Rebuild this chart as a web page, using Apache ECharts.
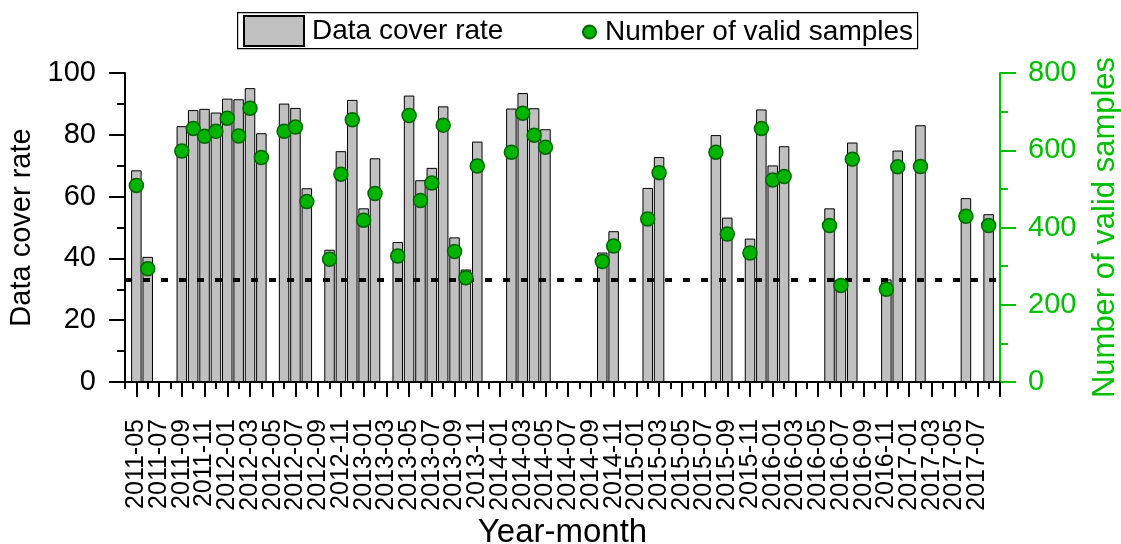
<!DOCTYPE html>
<html>
<head>
<meta charset="utf-8">
<script src="https://cdn.jsdelivr.net/npm/echarts@6/dist/echarts.min.js"></script>
<style>html,body{margin:0;padding:0;background:#fff;overflow:hidden}#c{width:1121px;height:544px}</style>
</head>
<body>
<div id="c"></div>
<script>
var months = ['2011-04','2011-05','2011-06','2011-07','2011-08','2011-09','2011-10','2011-11','2011-12',
'2012-01','2012-02','2012-03','2012-04','2012-05','2012-06','2012-07','2012-08','2012-09','2012-10','2012-11','2012-12',
'2013-01','2013-02','2013-03','2013-04','2013-05','2013-06','2013-07','2013-08','2013-09','2013-10','2013-11','2013-12',
'2014-01','2014-02','2014-03','2014-04','2014-05','2014-06','2014-07','2014-08','2014-09','2014-10','2014-11','2014-12',
'2015-01','2015-02','2015-03','2015-04','2015-05','2015-06','2015-07','2015-08','2015-09','2015-10','2015-11','2015-12',
'2016-01','2016-02','2016-03','2016-04','2016-05','2016-06','2016-07','2016-08','2016-09','2016-10','2016-11','2016-12',
'2017-01','2017-02','2017-03','2017-04','2017-05','2017-06','2017-07','2017-08','2017-09'];

var coverRate = [null,68.5,40.5,null,null,82.8,88.0,88.4,87.2,
91.7,91.5,95.1,80.5,null,90.1,88.7,62.7,null,42.8,74.7,91.3,
56.2,72.4,null,45.3,92.7,65.3,69.3,89.2,46.8,36.4,77.8,null,
null,88.5,93.5,88.6,81.8,null,null,null,null,41.9,48.8,null,
null,62.8,72.8,null,null,null,null,79.9,53.2,null,46.4,88.2,
70.1,76.3,null,null,null,56.2,33.0,77.5,null,null,33.2,74.9,
null,83.1,null,null,null,59.5,null,54.3,null];

var validSamples = [null,509,293,null,null,598,656,636,649,
683,637,709,581,null,649,660,467,null,318,538,679,
419,488,null,326,690,470,515,665,338,270,559,null,
null,595,696,639,608,null,null,null,null,312,352,null,
null,422,542,null,null,null,null,595,383,null,334,656,
523,532,null,null,null,405,250,577,null,null,240,557,
null,558,null,null,null,429,null,405,null];

var threshold = 33;

var FONT = "'Liberation Sans', Arial, sans-serif";
var GREEN = '#00c000';
var LAST = months.length - 1;

var chart = echarts.init(document.getElementById('c'), null, {renderer: 'canvas'});
chart.setOption({
  animation: false,
  backgroundColor: '#fff',
  textStyle: {fontFamily: FONT},
  grid: {left: 125, right: 121, top: 73, bottom: 162, containLabel: false, outerBoundsMode: 'none'},
  graphic: [{
    type: 'rect', left: 237, top: 12, z: -1,
    shape: {width: 680, height: 36},
    style: {fill: '#fff', stroke: '#000', lineWidth: 1.2}
  }],
  legend: [{
    data: [{name: 'Data cover rate', icon: 'rect'}],
    left: 243, top: 15, itemWidth: 60, itemHeight: 30, padding: 0,
    textStyle: {fontSize: 28, color: '#000', fontFamily: FONT, padding: [0,0,0,3]}
  }, {
    data: [{name: 'Number of valid samples', icon: 'circle'}],
    left: 582, top: 18, itemWidth: 13, itemHeight: 13, padding: 0,
    textStyle: {fontSize: 28, color: '#000', fontFamily: FONT, padding: [0,0,0,4]}
  }],
  xAxis: [{
    type: 'category', data: months, boundaryGap: false, position: 'bottom',
    name: 'Year-month', nameLocation: 'middle', nameGap: 134, nameMoveOverlap: false,
    nameTextStyle: {fontSize: 33, color: '#000', fontFamily: FONT},
    axisLine: {lineStyle: {color: '#000', width: 2}},
    axisTick: {show: true, length: 15, lineStyle: {color: '#000', width: 2},
      interval: function (i) { return i % 2 === 1; }},
    axisLabel: {rotate: 90, margin: 37, fontSize: 25, lineHeight: 18, color: '#000', fontFamily: FONT,
      interval: function (i) { return i === 0 || i === LAST || i % 2 === 1; },
      formatter: function (v, i) { return (i === 0 || i === LAST) ? '' : v; }},
    splitLine: {show: false}
  }, {
    type: 'category', data: months, boundaryGap: false, position: 'bottom',
    axisLine: {show: false},
    axisTick: {show: true, length: 7, lineStyle: {color: '#000', width: 2},
      interval: function (i) { return i % 2 === 0; }},
    axisLabel: {show: false},
    splitLine: {show: false}
  }],
  yAxis: [{
    type: 'value', min: 0, max: 100, interval: 20, position: 'left',
    name: 'Data cover rate', nameLocation: 'middle', nameGap: 81, nameRotate: 90,
    nameTextStyle: {fontSize: 29, color: '#000', fontFamily: FONT},
    axisLine: {show: true, lineStyle: {color: '#000', width: 2}},
    axisTick: {show: true, length: 16, lineStyle: {color: '#000', width: 2}},
    minorTick: {show: true, splitNumber: 2, length: 8, lineStyle: {color: '#000', width: 2}},
    axisLabel: {fontSize: 29, color: '#000', margin: 29, fontFamily: FONT},
    splitLine: {show: false}
  }, {
    type: 'value', min: 0, max: 800, interval: 200, position: 'right',
    name: 'Number of valid samples', nameLocation: 'middle', nameGap: 90, nameRotate: 90,
    nameTextStyle: {fontSize: 31, color: GREEN, fontFamily: FONT},
    axisLine: {show: true, lineStyle: {color: GREEN, width: 2}},
    axisTick: {show: true, length: 16, lineStyle: {color: GREEN, width: 2}},
    minorTick: {show: true, splitNumber: 2, length: 8, lineStyle: {color: GREEN, width: 2}},
    axisLabel: {fontSize: 29, color: GREEN, margin: 28, fontFamily: FONT},
    splitLine: {show: false}
  }],
  series: [{
    name: 'Data cover rate', type: 'bar', xAxisIndex: 0, yAxisIndex: 0,
    data: coverRate, barWidth: 10.5,
    itemStyle: {color: '#c0c0c0', borderColor: '#000', borderWidth: 1},
    markLine: {
      silent: true, symbol: 'none', label: {show: false},
      lineStyle: {color: '#000', width: 4, type: [7, 11]},
      data: [{yAxis: threshold}]
    }
  }, {
    name: 'Number of valid samples', type: 'scatter', xAxisIndex: 0, yAxisIndex: 1,
    data: validSamples, symbol: 'circle', symbolSize: 14, z: 5,
    itemStyle: {color: '#00b400', borderColor: '#006400', borderWidth: 1.5, opacity: 1}
  }]
});
</script>
</body>
</html>
